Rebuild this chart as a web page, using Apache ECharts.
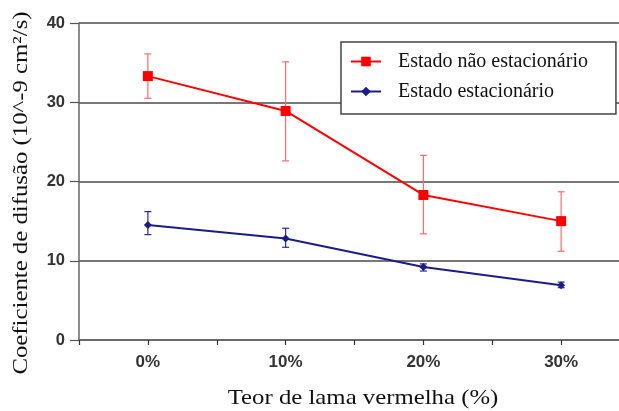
<!DOCTYPE html>
<html>
<head>
<meta charset="utf-8">
<script src="https://cdn.jsdelivr.net/npm/echarts@6/dist/echarts.min.js"></script>
<style>
  html, body { margin: 0; padding: 0; background: #fff; }
  #chart { width: 619px; height: 411px; }
</style>
</head>
<body>
<div id="chart"></div>
<script>
// Red mud content (%) on the x axis
const mudContent = [0, 10, 20, 30];
const tickLabels = ['0%', '10%', '20%', '30%'];

// Non-steady-state diffusion coefficient (10^-9 cm²/s) with error range
const naoEstacionario = [33.3, 28.9, 18.3, 15.0];
const naoEstLow = [30.5, 22.6, 13.4, 11.2];
const naoEstHigh = [36.1, 35.1, 23.3, 18.7];

// Steady-state diffusion coefficient with error range
const estacionario = [14.5, 12.8, 9.2, 6.9];
const estLow = [13.3, 11.7, 8.7, 6.6];
const estHigh = [16.2, 14.1, 9.6, 7.3];

const seriesNames = ['Estado não estacionário', 'Estado estacionário'];
const yTitle = 'Coeficiente de difusão (10^-9 cm²/s)';
const xTitle = 'Teor de lama vermelha (%)';

const pairs = (vals) => mudContent.map((x, i) => [x, vals[i]]);
const errData = (lo, hi) => mudContent.map((x, i) => [x, lo[i], hi[i]]);

function errorBars(color) {
  return function (params, api) {
    const x = api.value(0);
    const top = api.coord([x, api.value(2)]);
    const bot = api.coord([x, api.value(1)]);
    const cap = 3.5;
    const style = { stroke: color, lineWidth: 1.2 };
    return {
      type: 'group',
      children: [
        { type: 'line', shape: { x1: top[0], y1: top[1], x2: bot[0], y2: bot[1] }, style },
        { type: 'line', shape: { x1: top[0] - cap, y1: top[1], x2: top[0] + cap, y2: top[1] }, style },
        { type: 'line', shape: { x1: bot[0] - cap, y1: bot[1], x2: bot[0] + cap, y2: bot[1] }, style }
      ]
    };
  };
}

const chart = echarts.init(document.getElementById('chart'));
chart.setOption({
  animation: false,
  backgroundColor: '#fff',
  grid: { left: 79, right: 0, top: 23, bottom: 71 },
  xAxis: {
    type: 'value',
    min: -5,
    max: 34.2,
    interval: 5,
    axisLine: { onZero: false, lineStyle: { color: '#666', width: 1.5 } },
    axisTick: { show: true, length: 5, lineStyle: { color: '#333', width: 1.2 } },
    splitLine: { show: false },
    axisLabel: {
      margin: 14,
      color: '#333',
      fontFamily: 'Liberation Sans, Arial, sans-serif',
      fontWeight: 'bold',
      fontSize: 17,
      showMaxLabel: false,
      formatter: (v) => {
        const i = mudContent.indexOf(v);
        return i >= 0 ? tickLabels[i] : '';
      }
    }
  },
  yAxis: {
    type: 'value',
    min: 0,
    max: 40,
    interval: 10,
    axisLine: { show: true, onZero: false, lineStyle: { color: '#666', width: 1.5 } },
    axisTick: { show: true, length: 9, lineStyle: { color: '#555', width: 1.2 } },
    splitLine: { show: true, lineStyle: { color: '#777', width: 1.8 } },
    axisLabel: {
      margin: 14,
      color: '#333',
      fontFamily: 'Liberation Sans, Arial, sans-serif',
      fontWeight: 'bold',
      fontSize: 16.5
    }
  },
  legend: {
    orient: 'vertical',
    left: 341,
    top: 42,
    data: seriesNames,
    backgroundColor: '#fff',
    borderColor: '#444',
    borderWidth: 1.5,
    borderRadius: 0,
    padding: [9, 28, 12, 9],
    itemGap: 9,
    itemWidth: 30,
    itemHeight: 12,
    textStyle: {
      fontFamily: 'Liberation Serif, Times New Roman, serif',
      fontSize: 20,
      color: '#111',
      lineHeight: 21,
      padding: [0, 0, 0, 12]
    }
  },
  graphic: [
    {
      type: 'text',
      x: 21,
      y: 193,
      rotation: Math.PI / 2,
      scaleX: 1.18,
      style: {
        text: yTitle,
        font: '21px "Liberation Serif", "Times New Roman", serif',
        fill: '#111',
        align: 'center',
        verticalAlign: 'middle'
      }
    },
    {
      type: 'text',
      x: 363,
      y: 398,
      scaleX: 1.18,
      style: {
        text: xTitle,
        font: '21px "Liberation Serif", "Times New Roman", serif',
        fill: '#111',
        align: 'center',
        verticalAlign: 'middle'
      }
    }
  ],
  series: [
    {
      type: 'custom',
      renderItem: errorBars('#ff6a6a'),
      data: errData(naoEstLow, naoEstHigh),
      z: 2
    },
    {
      type: 'custom',
      renderItem: errorBars('#2a2a90'),
      data: errData(estLow, estHigh),
      z: 2
    },
    {
      name: seriesNames[0],
      type: 'line',
      data: pairs(naoEstacionario),
      color: '#ff0000',
      symbol: 'rect',
      symbolSize: 10,
      lineStyle: { width: 2, color: '#ff0000' },
      itemStyle: { color: '#ff0000' },
      z: 3
    },
    {
      name: seriesNames[1],
      type: 'line',
      data: pairs(estacionario),
      color: '#1c1c88',
      symbol: 'diamond',
      symbolSize: 8,
      lineStyle: { width: 2, color: '#1c1c88' },
      itemStyle: { color: '#1c1c88' },
      z: 3
    }
  ]
});
</script>
</body>
</html>
